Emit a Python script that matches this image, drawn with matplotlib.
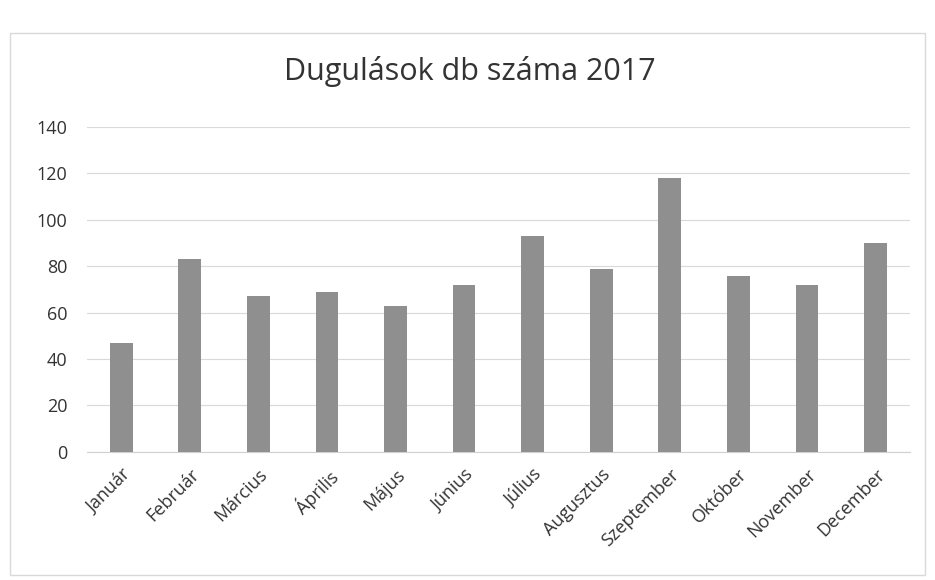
import numpy as np
import matplotlib.pyplot as plt
from matplotlib.patches import Rectangle

plt.rcParams['font.family'] = ['Open Sans', 'DejaVu Sans']

honapok = ["Január", "Február", "Március", "Április", "Május", "Június",
           "Július", "Augusztus", "Szeptember", "Október", "November", "December"]
dugulasok = [47, 83, 67, 69, 63, 72, 93, 79, 118, 76, 72, 90]
yticks = [0, 20, 40, 60, 80, 100, 120, 140]

fig = plt.figure(figsize=(9.35, 5.8), dpi=100)
fig.patches.append(Rectangle((0.011, 0.008), 0.978, 0.935, transform=fig.transFigure,
                             fill=False, edgecolor="#d9d9d9", linewidth=1))

ax = fig.add_axes([0.093, 0.221, 0.88, 0.56])
x = np.arange(len(honapok))
ax.bar(x, dugulasok, width=0.33, color="#8f8f8f", zorder=3)

ax.set_ylim(0, 140)
ax.set_xlim(-0.5, len(honapok) - 0.5)
ax.set_yticks(yticks)
ax.set_yticklabels([str(t) for t in yticks], fontsize=13, color="#333333")
ax.set_xticks(x)
ax.set_xticklabels(honapok, rotation=45, ha="right", rotation_mode="anchor",
                   fontsize=13, color="#333333")
ax.tick_params(axis="y", length=0, pad=14)
ax.tick_params(axis="x", length=0, pad=10)
ax.yaxis.grid(True, color="#d9d9d9", linewidth=0.8, zorder=0)
for s in ["top", "right", "left"]:
    ax.spines[s].set_visible(False)
ax.spines["bottom"].set_color("#d0d0d0")

fig.text(0.503, 0.877, "Dugulások db száma 2017", ha="center", va="center",
         fontsize=22, color="#333333")

fig.savefig("out.png", dpi=100)
